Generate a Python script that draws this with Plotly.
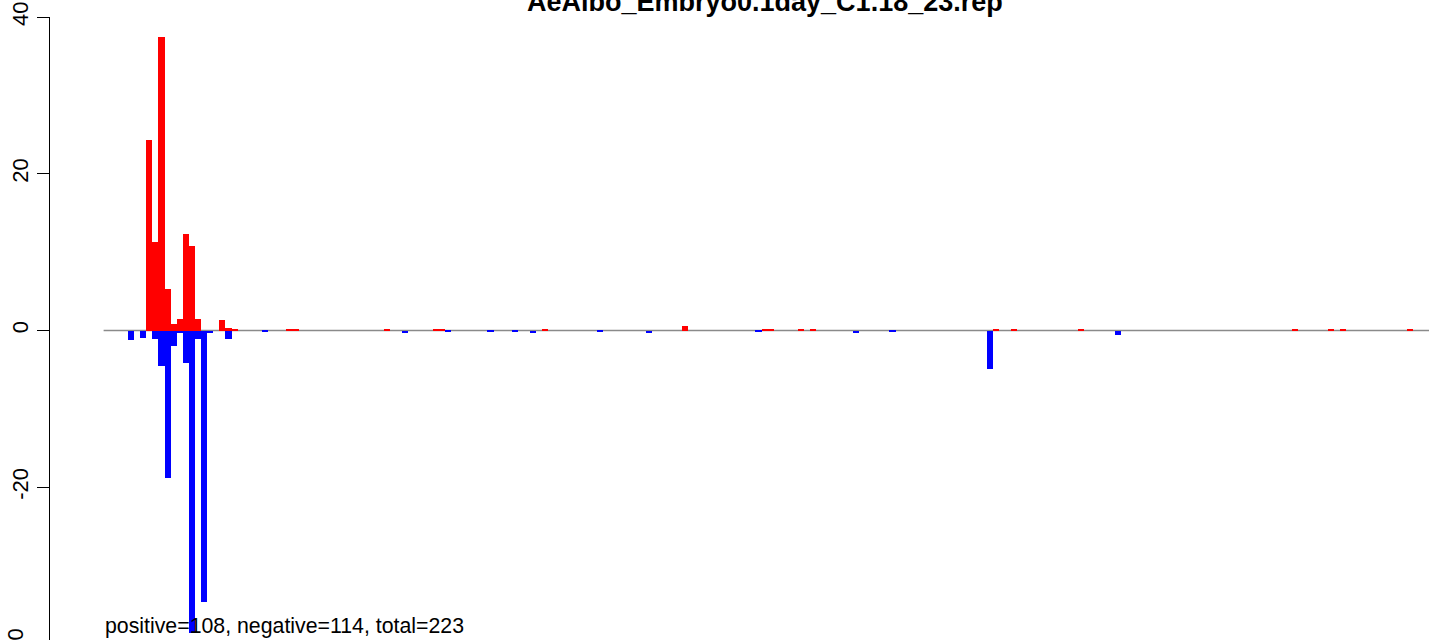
import plotly.graph_objects as go

# ---- data (bar index along the region, value) ----
pos_idx = [7, 8, 9, 10, 11, 12, 13, 14, 15, 19, 20, 21, 30, 31, 46, 54, 55, 72, 95,
           108, 109, 114, 116, 146, 149, 160, 195, 201, 203, 214]
pos_val = [24.3, 11.3, 37.4, 5.3, 0.8, 1.5, 12.3, 10.8, 1.5, 1.3, 0.3, 0.1, 0.15, 0.15,
           0.15, 0.15, 0.15, 0.15, 0.6, 0.15, 0.15, 0.15, 0.25, 0.15, 0.25, 0.15, 0.15,
           0.15, 0.25, 0.15]

neg_idx = [4, 6, 8, 9, 10, 11, 12, 13, 14, 15, 16, 17, 20, 26, 49, 56, 63, 67, 70, 81,
           89, 107, 123, 129, 145, 166]
neg_val = [-1.2, -0.9, -1.1, -4.5, -18.8, -2.0, -0.3, -4.2, -38.6, -1.1, -34.7, -0.3,
           -1.1, -0.2, -0.35, -0.15, -0.15, -0.15, -0.35, -0.15, -0.35, -0.15, -0.35,
           -0.25, -4.9, -0.6]

title_text = "AeAlbo_Embryo0.1day_C1.18_23.rep"
footer_text = "positive=108, negative=114, total=223"
y_ticks = [-20, 0, 20, 40]

FONT = "Liberation Sans, Arial, Helvetica, sans-serif"
W, H = 1429, 640
L, R, T, B = 50, 0, 17, 0

fig = go.Figure()
fig.add_trace(go.Bar(x=[i + 0.5 for i in pos_idx], y=pos_val, width=1,
                     marker=dict(color="#FF0000", line=dict(width=0)), showlegend=False))
fig.add_trace(go.Bar(x=[i + 0.5 for i in neg_idx], y=neg_val, width=1,
                     marker=dict(color="#0000FF", line=dict(width=0)), showlegend=False))

# baseline
fig.add_shape(type="line", xref="x", yref="y", x0=0, x1=240, y0=0, y1=0,
              line=dict(color="#8a8a8a", width=1.6), layer="below")

plot_h = H - T - B
fig.add_annotation(text="<b>%s</b>" % title_text, xref="paper", yref="paper",
                   x=(765 - L) / (W - L - R), y=1 + (T - 2) / plot_h,
                   xanchor="center", yanchor="middle", showarrow=False,
                   font=dict(family=FONT, size=27, color="black"))
fig.add_annotation(text=footer_text, xref="paper", yref="paper",
                   x=(103 - L) / (W - L - R), y=(H - 626) / plot_h,
                   xanchor="left", yanchor="middle", showarrow=False,
                   font=dict(family=FONT, size=21.3, color="black"))
fig.add_annotation(text="-40", xref="paper", yref="paper",
                   x=(15 - L) / (W - L - R), y=(H - 644) / plot_h,
                   xanchor="center", yanchor="middle", textangle=-90, showarrow=False,
                   font=dict(family=FONT, size=22, color="black"))

fig.update_layout(
    width=W, height=H,
    margin=dict(l=L, r=R, t=T, b=B, pad=0),
    paper_bgcolor="white", plot_bgcolor="white",
    barmode="overlay", bargap=0,
    font=dict(family=FONT, color="black"),
    xaxis=dict(range=[-8.80, 217.56], visible=False, showgrid=False, zeroline=False),
    yaxis=dict(range=[-39.49, 40], tickvals=y_ticks, ticktext=[str(v) for v in y_ticks],
               tickangle=-90, ticks="outside", ticklen=12, tickcolor="black",
               showline=True, linecolor="black", linewidth=1, showgrid=False,
               zeroline=False, tickfont=dict(family=FONT, size=22, color="black")),
)

fig.write_html("out.html", config={"displayModeBar": False},
               post_script="document.body.style.margin='0px';")
